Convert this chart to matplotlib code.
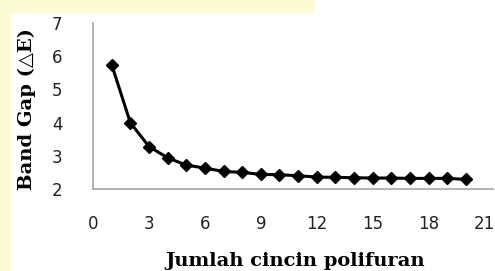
import matplotlib
matplotlib.use("Agg")
import matplotlib.pyplot as plt
from matplotlib.patches import Rectangle

# data
rings = [1, 2, 3, 4, 5, 6, 7, 8, 9, 10, 11, 12, 13, 14, 15, 16, 17, 18, 19, 20]
band_gap = [5.75, 4.00, 3.28, 2.94, 2.72, 2.63, 2.53, 2.50, 2.44, 2.43,
            2.40, 2.36, 2.35, 2.34, 2.33, 2.33, 2.32, 2.32, 2.32, 2.29]
x_ticks = [0, 3, 6, 9, 12, 15, 18, 21]
y_ticks = [2, 3, 4, 5, 6, 7]

W, H = 495, 271
fig = plt.figure(figsize=(W / 100, H / 100), dpi=100, facecolor="#fdfbd6")

# white page area over the pale yellow background
fig.patches.append(Rectangle((11 / W, 0), 1, 1 - 13 / H, transform=fig.transFigure,
                             facecolor="white", edgecolor="none", zorder=-5))
fig.patches.append(Rectangle((315 / W, 0), 1, 1, transform=fig.transFigure,
                             facecolor="white", edgecolor="none", zorder=-5))

left, right = 93 / W, 493 / W
bottom, top = (H - 189) / H, (H - 23) / H
ax = fig.add_axes([left, bottom, right - left, top - bottom])
ax.set_zorder(5)
ax.patch.set_alpha(0)

ax.plot(rings, band_gap, color="black", lw=2.2, marker="D", ms=6.5,
        markerfacecolor="black", markeredgecolor="black", clip_on=False)

ax.set_xlim(0, 21.45)
ax.set_ylim(2, 7)
ax.set_xticks(x_ticks)
ax.set_yticks(y_ticks)

for side in ["top", "right"]:
    ax.spines[side].set_visible(False)
for side in ["left", "bottom"]:
    ax.spines[side].set_color("#a6a6a6")
    ax.spines[side].set_linewidth(1.2)

ax.tick_params(axis="both", length=0, labelsize=12, colors="#222222")
ax.tick_params(axis="x", pad=19)
ax.tick_params(axis="y", pad=22)

serif = ["DejaVu Serif", "DejaVu Sans"]
fig.text(295 / W, 1 - 261 / H, "Jumlah cincin polifuran", fontsize=14,
         fontweight="bold", family=serif, ha="center", va="center")
fig.text(27 / W, 1 - 109 / H, "Band Gap (△E)", fontsize=14, rotation=90,
         fontweight="bold", family=serif, ha="center", va="center")

fig.savefig("out.png", dpi=100, facecolor=fig.get_facecolor())
